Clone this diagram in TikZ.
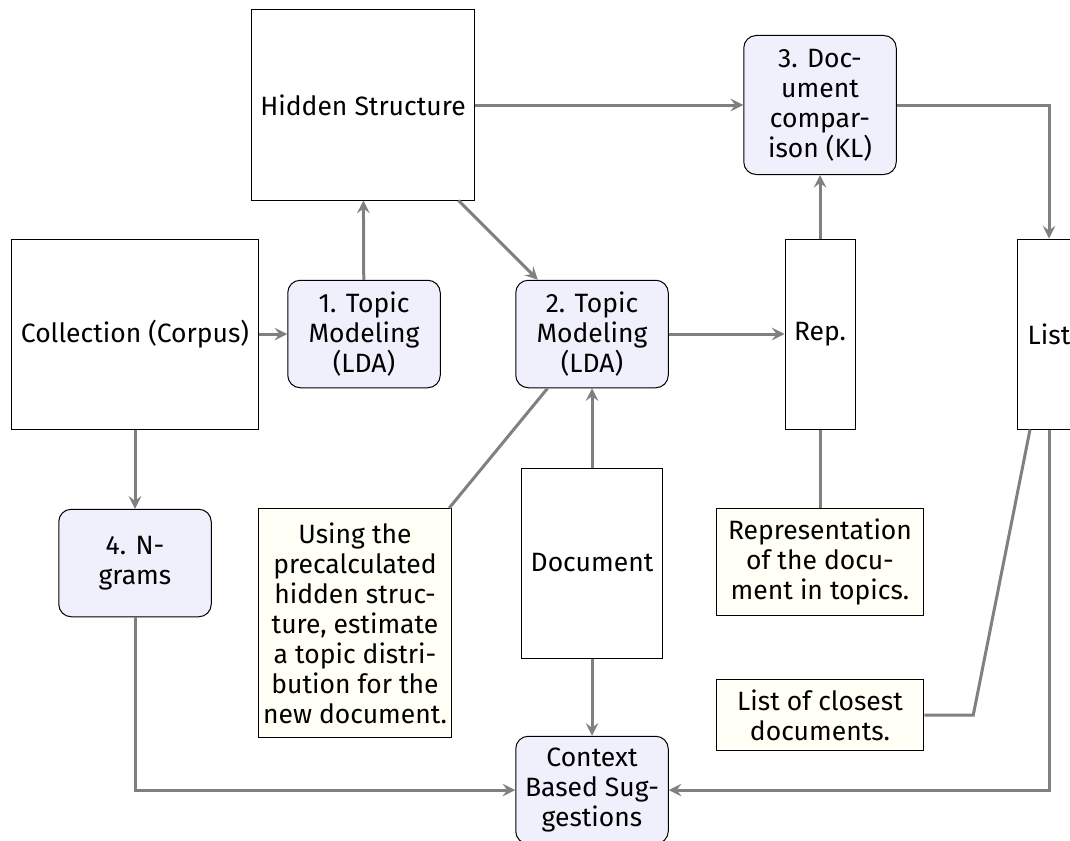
\documentclass[tikz,border=0pt]{standalone}
\usepackage{fontspec}
\setmainfont{Fira Sans}[Scale=1.06]
\usepackage[dvipsnames]{xcolor}
\definecolor{procfill}{RGB}{240,240,252}
\definecolor{notefill}{RGB}{255,255,245}
\definecolor{linkgray}{RGB}{128,128,128}

\begin{document}
\begin{tikzpicture}[x=0.4pt,y=-0.4pt,>=stealth,font=\normalsize,
    store/.style={rectangle,draw,thin,minimum height=76pt,align=center},
    proc/.style={rectangle,rounded corners=5pt,draw,thin,fill=procfill,minimum width=61pt,minimum height=43pt,align=center},
    note/.style={rectangle,draw,thin,fill=notefill,inner xsep=2pt,inner ysep=4pt,align=center},
    link/.style={draw=linkgray,very thick}]

            \path[use as bounding box,clip] (0,0) rectangle (1070,840);

            \node[store,minimum width=99pt] (corpus) at (135,334) {Collection (Corpus)};
            \node[store,minimum width=89pt] (hidden) at (363,105) {Hidden Structure};
            \node[proc] (lda1) at (364,334) {1. Topic\\Modeling\\(LDA)};
            \node[proc] (lda2) at (592,334) {2. Topic\\Modeling\\(LDA)};
            \node[proc,minimum height=55.6pt] (kl) at (820,105) {3. Doc-\\ument\\compar-\\ison (KL)};
            \node[store,minimum width=28pt] (rep) at (820,334) {Rep.};
            \node[store,minimum width=25pt] (list) at (1049,334) {List};
            \node[proc] (ngrams) at (135,563) {4. N-\\grams};
            \node[store,minimum width=56pt] (doc) at (592,563) {Document};
            \node[proc] (context) at (592,790) {Context\\Based Sug-\\gestions};

            \node[note,minimum width=76pt,minimum height=91.6pt] (usingnote) at (355,623) {Using the\\precalculated\\hidden struc-\\ture, estimate\\a topic distri-\\bution for the\\new document.};
            \node[note,minimum width=83pt] (repnote) at (820,562) {Representation\\of the docu-\\ment in topics.};
            \node[note,minimum width=83pt] (listnote) at (820,715) {List of closest\\documents.};

            \draw[link,->] (corpus) to (lda1);
            \draw[link,->] (lda1) to (hidden);
            \draw[link,->] (hidden) to (lda2);
            \draw[link,->] (hidden) to (kl);
            \draw[link,->] (lda2) to (rep);
            \draw[link,->] (rep) to (kl);
            \draw[link,->] (kl) -| (list);
            \draw[link,->] (doc) to (lda2);
            \draw[link,->] (doc) to (context);
            \draw[link,->] (corpus) to (ngrams);
            \draw[link,->] (ngrams) |- (context);
            \draw[link,->] (list) |- (context);

            % annotations
            \draw[link] (usingnote) to (lda2);
            \draw[link] (repnote) to (rep);
            \draw[link] (listnote.east) -- ++(49,0) -- (list);

        \end{tikzpicture}
\end{document}
